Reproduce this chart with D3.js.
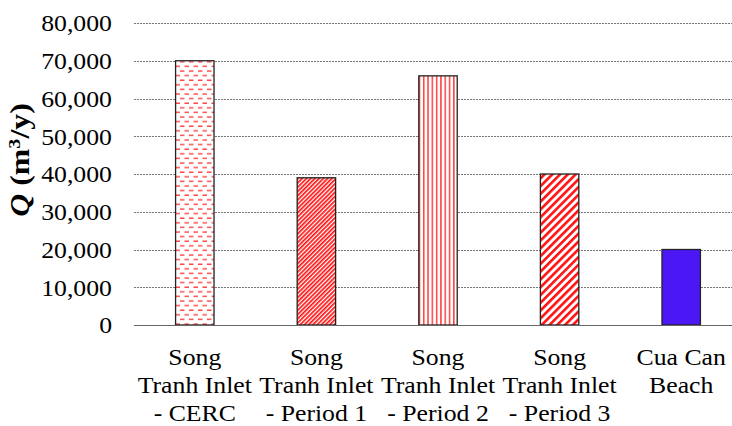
<!DOCTYPE html>
<html>
<head>
<meta charset="utf-8">
<script src="https://cdn.jsdelivr.net/npm/d3@7"></script>
<style>
  body { margin: 0; background: #fff; }
</style>
</head>
<body>
<div id="vis"></div>
<script>
// Chart data
var categories = [
    ['Song', 'Tranh Inlet', '- CERC'],
    ['Song', 'Tranh Inlet', '- Period 1'],
    ['Song', 'Tranh Inlet', '- Period 2'],
    ['Song', 'Tranh Inlet', '- Period 3'],
    ['Cua Can', 'Beach']
];
var values = [70000, 39000, 66000, 40000, 20000];
var yTicks = [0, 10000, 20000, 30000, 40000, 50000, 60000, 70000, 80000];

var serif = 'Liberation Serif';
var stretch = ' scale(1.12,1)';

var width = 732, height = 426;
var margin = { left: 134, top: 23, right: -10, bottom: 101 };
var drawWidth = width - margin.left - margin.right;
var drawHeight = height - margin.top - margin.bottom;

var svg = d3.select('#vis').append('svg')
    .attr('width', width)
    .attr('height', height);

// Fill patterns for each bar
var defs = svg.append('defs');

// 1: short horizontal dashes, offset rows
var p1 = defs.append('pattern').attr('id', 'p0')
    .attr('patternUnits', 'userSpaceOnUse').attr('width', 9).attr('height', 9.2);
p1.append('rect').attr('width', 9).attr('height', 9.2).attr('fill', '#fff');
p1.append('line').attr('x1', 1).attr('x2', 5.5).attr('y1', 2).attr('y2', 2)
    .attr('stroke', '#f22').attr('stroke-width', 1.2);
p1.append('line').attr('x1', 5.5).attr('x2', 10).attr('y1', 6.6).attr('y2', 6.6)
    .attr('stroke', '#f22').attr('stroke-width', 1.2);
p1.append('line').attr('x1', -3.5).attr('x2', 1).attr('y1', 6.6).attr('y2', 6.6)
    .attr('stroke', '#f22').attr('stroke-width', 1.2);

// 2: dense downward diagonal
var p2 = defs.append('pattern').attr('id', 'p1')
    .attr('patternUnits', 'userSpaceOnUse').attr('width', 3).attr('height', 3)
    .attr('patternTransform', 'rotate(45)');
p2.append('rect').attr('width', 3).attr('height', 3).attr('fill', '#fff');
p2.append('rect').attr('width', 1.7).attr('height', 3).attr('fill', '#f11');

// 3: vertical lines
var p3 = defs.append('pattern').attr('id', 'p2')
    .attr('patternUnits', 'userSpaceOnUse').attr('width', 4.3).attr('height', 4);
p3.append('rect').attr('width', 4.3).attr('height', 4).attr('fill', '#fff');
p3.append('rect').attr('x', 1).attr('width', 1.3).attr('height', 4).attr('fill', '#f22');

// 4: wide downward diagonal
var p4 = defs.append('pattern').attr('id', 'p3')
    .attr('patternUnits', 'userSpaceOnUse').attr('width', 5.5).attr('height', 5.5)
    .attr('patternTransform', 'rotate(45)');
p4.append('rect').attr('width', 5.5).attr('height', 5.5).attr('fill', '#fff');
p4.append('rect').attr('width', 2.6).attr('height', 5.5).attr('fill', '#f11');

var fills = ['url(#p0)', 'url(#p1)', 'url(#p2)', 'url(#p3)', '#4b17f5'];

var g = svg.append('g')
    .attr('transform', 'translate(' + margin.left + ',' + margin.top + ')');

var xScale = d3.scaleBand()
    .domain(d3.range(categories.length))
    .range([0, drawWidth])
    .paddingInner(0.684)
    .paddingOuter(0.342);

var yScale = d3.scaleLinear()
    .domain([0, 80000])
    .range([drawHeight, 0]);

// Gridlines
g.selectAll('.grid').data(yTicks.filter(function(d) { return d > 0; }))
    .enter().append('line')
    .attr('class', 'grid')
    .attr('x1', 0).attr('x2', drawWidth)
    .attr('y1', function(d) { return Math.round(yScale(d)) + 0.5; })
    .attr('y2', function(d) { return Math.round(yScale(d)) + 0.5; })
    .attr('stroke', '#777')
    .attr('stroke-width', 1)
    .attr('stroke-dasharray', '2,1');

// Y axis
var yAxis = d3.axisLeft(yScale)
    .tickValues(yTicks)
    .tickSize(0)
    .tickPadding(22)
    .tickFormat(d3.format(','));
var yAxisG = g.append('g').call(yAxis);
yAxisG.select('.domain').remove();
yAxisG.selectAll('text')
    .attr('x', 0)
    .attr('dy', '0.34em')
    .attr('transform', 'translate(-22,0)' + stretch)
    .attr('fill', '#000')
    .style('font-family', serif)
    .style('font-size', '23px');

// Bars
g.selectAll('.bar').data(values)
    .enter().append('rect')
    .attr('class', 'bar')
    .attr('x', function(d, i) { return xScale(i); })
    .attr('width', xScale.bandwidth())
    .attr('y', function(d) { return yScale(d); })
    .attr('height', function(d) { return drawHeight - yScale(d); })
    .attr('fill', function(d, i) { return fills[i]; })
    .attr('stroke', '#222')
    .attr('stroke-width', 1.3);

// X axis line
g.append('line')
    .attr('x1', 0).attr('x2', drawWidth)
    .attr('y1', drawHeight + 0.5).attr('y2', drawHeight + 0.5)
    .attr('stroke', '#666').attr('stroke-width', 1.2);

// Category labels
var labels = g.selectAll('.cat').data(categories)
    .enter().append('text')
    .attr('class', 'cat')
    .attr('text-anchor', 'middle')
    .style('font-family', serif)
    .style('font-size', '23px')
    .attr('transform', function(d, i) {
        return 'translate(' + (xScale(i) + xScale.bandwidth() / 2) + ',' + (drawHeight + 40) + ')' + stretch;
    });
labels.selectAll('tspan').data(function(d) { return d; })
    .enter().append('tspan')
    .attr('x', 0)
    .attr('dy', function(d, i) { return i === 0 ? 0 : 28; })
    .text(function(d) { return d; });

// Y axis title
var yTitle = svg.append('text')
    .attr('transform', 'translate(29,160) rotate(-90) scale(1.18,1)')
    .attr('text-anchor', 'middle')
    .style('font-family', serif)
    .style('font-size', '27px')
    .style('font-weight', 'bold');
yTitle.append('tspan').style('font-style', 'italic').text('Q');
yTitle.append('tspan').text(' (m');
yTitle.append('tspan').attr('dy', -9).style('font-size', '17px').text('3');
yTitle.append('tspan').attr('dy', 9).text('/y)');
</script>
</body>
</html>
